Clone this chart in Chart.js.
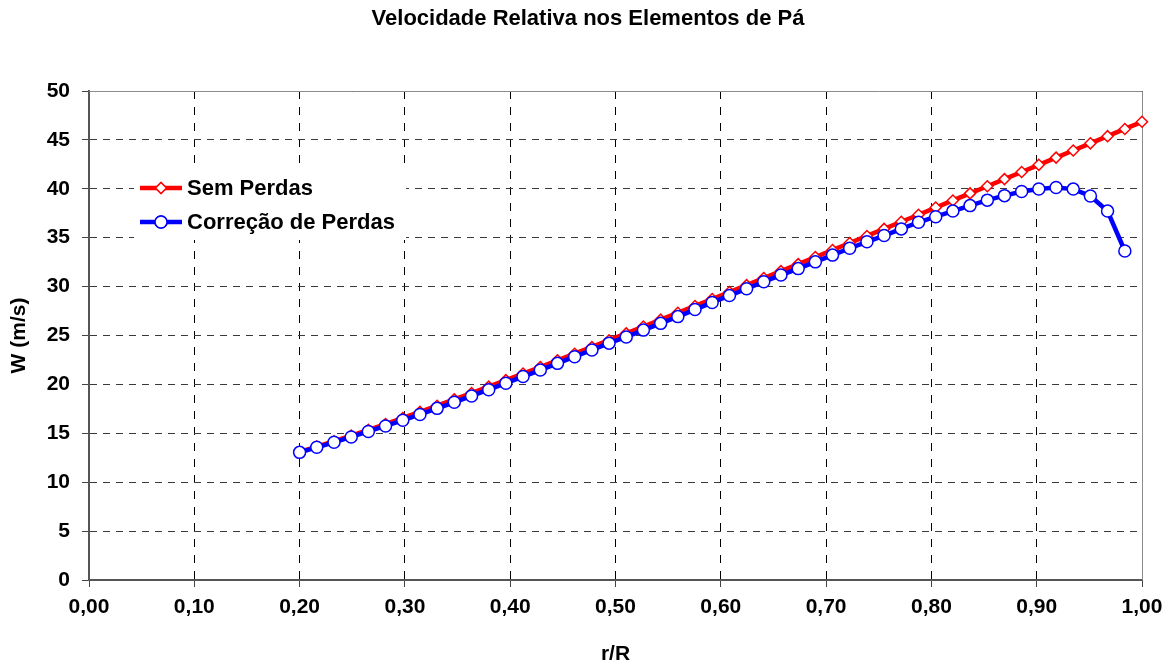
<!DOCTYPE html>
<html>
<head>
<meta charset="utf-8">
<script src="https://cdn.jsdelivr.net/npm/chart.js@4"></script>
<style>
  html, body { margin: 0; padding: 0; background: #fff; }
  #wrap { width: 1176px; height: 666px; position: relative; }
</style>
</head>
<body>
<div id="wrap"><canvas id="chart"></canvas></div>
<script>
// r/R positions of the blade elements
const rR = [0.2000, 0.2163, 0.2327, 0.2490, 0.2653, 0.2816, 0.2980, 0.3143, 0.3306, 0.3469,
            0.3633, 0.3796, 0.3959, 0.4122, 0.4286, 0.4449, 0.4612, 0.4776, 0.4939, 0.5102,
            0.5265, 0.5429, 0.5592, 0.5755, 0.5918, 0.6082, 0.6245, 0.6408, 0.6571, 0.6735,
            0.6898, 0.7061, 0.7224, 0.7388, 0.7551, 0.7714, 0.7878, 0.8041, 0.8204, 0.8367,
            0.8531, 0.8694, 0.8857, 0.9020, 0.9184, 0.9347, 0.9510, 0.9673, 0.9837, 1.0000];

// W (m/s) without losses
const semPerdas = [13.10, 13.64, 14.19, 14.76, 15.35, 15.95, 16.57, 17.19, 17.82, 18.47,
                   19.12, 19.77, 20.44, 21.11, 21.78, 22.46, 23.14, 23.83, 24.52, 25.22,
                   25.92, 26.62, 27.32, 28.02, 28.73, 29.44, 30.15, 30.87, 31.58, 32.30,
                   33.02, 33.74, 34.46, 35.18, 35.90, 36.63, 37.35, 38.08, 38.81, 39.53,
                   40.26, 40.99, 41.72, 42.45, 43.19, 43.92, 44.65, 45.38, 46.12, 46.85];

// W (m/s) with loss correction (last element omitted)
const comPerdas = [13.05, 13.57, 14.08, 14.63, 15.19, 15.75, 16.33, 16.93, 17.55, 18.17,
                   18.82, 19.46, 20.12, 20.80, 21.47, 22.15, 22.83, 23.52, 24.22, 24.85,
                   25.55, 26.24, 26.93, 27.65, 28.38, 29.08, 29.78, 30.50, 31.18, 31.84,
                   32.53, 33.22, 33.92, 34.58, 35.22, 35.90, 36.58, 37.15, 37.72, 38.28,
                   38.84, 39.30, 39.72, 39.98, 40.14, 39.97, 39.27, 37.72, 33.64];

const xTicks = [0, 0.1, 0.2, 0.3, 0.4, 0.5, 0.6, 0.7, 0.8, 0.9, 1.0];
const yTicks = [0, 5, 10, 15, 20, 25, 30, 35, 40, 45, 50];

const FONT = "'Liberation Sans', Arial, sans-serif";

const frame = {
  id: 'frame',
  beforeDraw(chart) {
    const ctx = chart.ctx;
    ctx.save();
    ctx.fillStyle = '#fff';
    ctx.fillRect(0, 0, chart.width, chart.height);
    ctx.restore();
  },
  beforeDatasetsDraw(chart) {
    const { ctx, chartArea: a } = chart;
    ctx.save();
    ctx.strokeStyle = '#8c8c8c';
    ctx.lineWidth = 1;
    ctx.beginPath();
    ctx.moveTo(a.left, a.top + 0.5);
    ctx.lineTo(a.right + 0.5, a.top + 0.5);
    ctx.lineTo(a.right + 0.5, a.bottom);
    ctx.stroke();
    ctx.restore();
  },
  afterDraw(chart) {
    const ctx = chart.ctx;
    ctx.save();
    // title
    ctx.fillStyle = '#000';
    ctx.font = 'bold 22px ' + FONT;
    ctx.textAlign = 'center';
    ctx.textBaseline = 'middle';
    ctx.fillText('Velocidade Relativa nos Elementos de Pá', 588, 19);

    // legend inside the plot
    ctx.fillStyle = '#fff';
    ctx.fillRect(134, 170, 272, 70);
    const items = [
      { text: 'Sem Perdas', color: '#ff0000', style: 'rectRot', r: 5.5, y: 188 },
      { text: 'Correção de Perdas', color: '#0000ff', style: 'circle', r: 6, y: 222 }
    ];
    items.forEach(it => {
      ctx.strokeStyle = it.color;
      ctx.lineWidth = 4.5;
      ctx.beginPath();
      ctx.moveTo(140, it.y);
      ctx.lineTo(182, it.y);
      ctx.stroke();
      ctx.fillStyle = '#fff';
      ctx.lineWidth = 1.5;
      Chart.helpers.drawPoint(ctx, { pointStyle: it.style, radius: it.r, borderWidth: 1.5 }, 161, it.y);
      ctx.fill();
      ctx.stroke();
      ctx.fillStyle = '#000';
      ctx.font = 'bold 22px ' + FONT;
      ctx.textAlign = 'left';
      ctx.textBaseline = 'middle';
      ctx.fillText(it.text, 187, it.y + 1);
    });
    ctx.restore();
  }
};

new Chart(document.getElementById('chart'), {
  type: 'line',
  data: {
    datasets: [
      {
        label: 'Sem Perdas',
        data: semPerdas.map((y, i) => ({ x: rR[i], y })),
        borderColor: '#ff0000',
        borderWidth: 4.5,
        pointStyle: 'rectRot',
        pointRadius: 5.5,
        pointBorderWidth: 1.5,
        pointBorderColor: '#ff0000',
        pointBackgroundColor: '#fff',
        tension: 0,
        clip: false,
        order: 2
      },
      {
        label: 'Correção de Perdas',
        data: comPerdas.map((y, i) => ({ x: rR[i], y })),
        borderColor: '#0000ff',
        borderWidth: 4.5,
        pointStyle: 'circle',
        pointRadius: 6,
        pointBorderWidth: 1.5,
        pointBorderColor: '#0000ff',
        pointBackgroundColor: '#fff',
        tension: 0,
        clip: false,
        order: 1
      }
    ]
  },
  options: {
    responsive: true,
    maintainAspectRatio: false,
    animation: false,
    events: [],
    layout: { padding: { top: 91, right: 34, left: 0, bottom: 0 } },
    plugins: {
      legend: { display: false },
      title: { display: false },
      tooltip: { enabled: false }
    },
    scales: {
      x: {
        type: 'linear',
        min: 0,
        max: 1,
        afterFit(scale) { scale.height = 86; },
        afterBuildTicks(scale) { scale.ticks = xTicks.map(v => ({ value: v })); },
        ticks: {
          color: '#000',
          font: { family: FONT, size: 21, weight: 'bold' },
          padding: 8,
          maxRotation: 0,
          callback: v => Number(v).toFixed(2).replace('.', ',')
        },
        grid: {
          color: '#000',
          lineWidth: 1,
          tickLength: 7,
          tickColor: '#444',
          tickBorderDash: []
        },
        border: { color: '#555', width: 2, dash: [8, 8] },
        title: {
          display: true,
          text: 'r/R',
          color: '#000',
          font: { family: FONT, size: 21, weight: 'bold', lineHeight: 1 },
          padding: { top: 0, bottom: 1 }
        }
      },
      y: {
        min: 0,
        max: 50,
        afterFit(scale) { scale.width = 89; },
        afterBuildTicks(scale) { scale.ticks = yTicks.map(v => ({ value: v })); },
        ticks: {
          color: '#000',
          font: { family: FONT, size: 21, weight: 'bold' },
          padding: 12
        },
        grid: {
          color: '#3a3a3a',
          lineWidth: 1,
          tickLength: 7,
          tickColor: '#444',
          tickBorderDash: []
        },
        border: { color: '#555', width: 2, dash: [7, 6] },
        title: {
          display: true,
          text: 'W (m/s)',
          color: '#000',
          font: { family: FONT, size: 21, weight: 'bold', lineHeight: 1 },
          padding: { top: 9, bottom: 0 }
        }
      }
    }
  },
  plugins: [frame]
});
</script>
</body>
</html>
